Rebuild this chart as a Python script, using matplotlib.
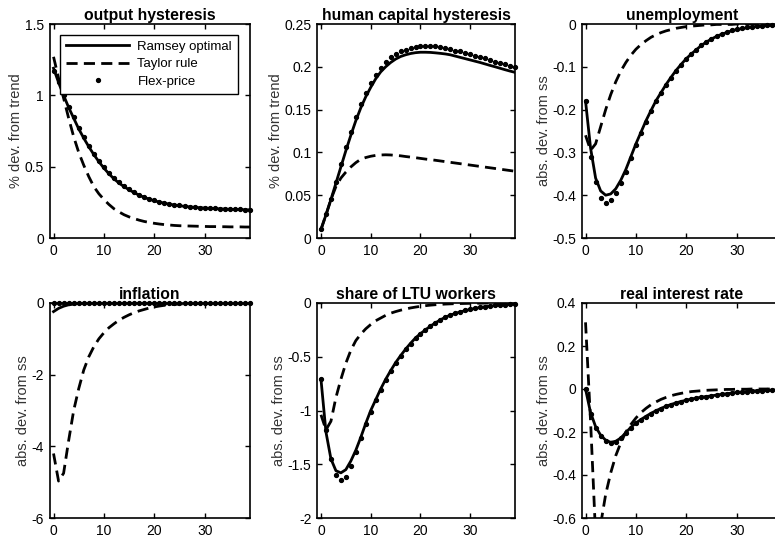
import matplotlib
matplotlib.use('Agg')
import matplotlib.pyplot as plt
import numpy as np
from matplotlib.ticker import FuncFormatter

plt.rcParams['font.family'] = ['Liberation Sans', 'DejaVu Sans']
plt.rcParams['axes.unicode_minus'] = False
plt.rcParams['lines.scale_dashes'] = False

periods = np.arange(40)

output_ramsey = [1.19, 1.09, 1.00, 0.915, 0.84, 0.765, 0.70, 0.64, 0.585, 0.535,
                 0.49, 0.45, 0.415, 0.385, 0.36, 0.338, 0.318, 0.30, 0.285, 0.272,
                 0.261, 0.252, 0.244, 0.237, 0.231, 0.226, 0.222, 0.218, 0.215, 0.212,
                 0.21, 0.208, 0.206, 0.204, 0.203, 0.201, 0.20, 0.199, 0.198, 0.197]
output_taylor = [1.27, 1.12, 0.98, 0.84, 0.71, 0.60, 0.51, 0.43, 0.36, 0.31,
                 0.27, 0.235, 0.205, 0.183, 0.163, 0.148, 0.136, 0.125, 0.116, 0.109,
                 0.103, 0.098, 0.094, 0.091, 0.088, 0.086, 0.085, 0.084, 0.083, 0.082,
                 0.081, 0.080, 0.080, 0.079, 0.079, 0.078, 0.078, 0.078, 0.077, 0.077]
output_flex = [1.17, 1.09, 1.005, 0.92, 0.845, 0.77, 0.705, 0.645, 0.59, 0.54,
               0.495, 0.455, 0.42, 0.39, 0.364, 0.341, 0.321, 0.303, 0.288, 0.275,
               0.264, 0.254, 0.246, 0.239, 0.233, 0.228, 0.223, 0.219, 0.216, 0.213,
               0.211, 0.209, 0.207, 0.205, 0.204, 0.202, 0.201, 0.2, 0.199, 0.198]

hc_ramsey = [0.010, 0.027, 0.045, 0.064, 0.083, 0.102, 0.120, 0.137, 0.152, 0.165,
             0.176, 0.186, 0.194, 0.200, 0.205, 0.209, 0.212, 0.214, 0.2155, 0.2165,
             0.217, 0.217, 0.2168, 0.2163, 0.2157, 0.215, 0.214, 0.2125, 0.211, 0.2095,
             0.208, 0.2065, 0.205, 0.2033, 0.2016, 0.2, 0.1983, 0.1966, 0.195, 0.1935]
hc_taylor = [0.010, 0.027, 0.045, 0.060, 0.070, 0.077, 0.083, 0.088, 0.092, 0.094,
             0.0955, 0.0965, 0.097, 0.0972, 0.097, 0.0965, 0.096, 0.0952, 0.0945, 0.0938,
             0.093, 0.0922, 0.0915, 0.0908, 0.090, 0.0892, 0.0884, 0.0876, 0.0868, 0.086,
             0.0852, 0.0844, 0.0836, 0.0828, 0.082, 0.0812, 0.0804, 0.0796, 0.0788, 0.078]
hc_flex = [0.010, 0.028, 0.046, 0.066, 0.086, 0.106, 0.124, 0.141, 0.156, 0.169,
           0.181, 0.191, 0.199, 0.206, 0.211, 0.215, 0.218, 0.220, 0.222, 0.223,
           0.224, 0.2245, 0.2245, 0.224, 0.223, 0.222, 0.221, 0.219, 0.218, 0.216,
           0.215, 0.213, 0.211, 0.21, 0.208, 0.206, 0.205, 0.203, 0.201, 0.2]

unemp_ramsey = [-0.18, -0.29, -0.36, -0.39, -0.40, -0.397, -0.385, -0.365, -0.34, -0.31,
                -0.28, -0.253, -0.226, -0.202, -0.179, -0.16, -0.141, -0.124, -0.108, -0.094,
                -0.081, -0.07, -0.06, -0.05, -0.042, -0.035, -0.029, -0.024, -0.02, -0.016,
                -0.013, -0.011, -0.009, -0.007, -0.006, -0.005, -0.004, -0.003, -0.0025, -0.002]
unemp_taylor = [-0.26, -0.295, -0.28, -0.24, -0.20, -0.165, -0.135, -0.11, -0.09, -0.073,
                -0.059, -0.048, -0.039, -0.031, -0.025, -0.02, -0.016, -0.013, -0.01, -0.008,
                -0.006, -0.005, -0.004, -0.003, -0.002, -0.002, -0.001, -0.001, -0.001, -0.001,
                0.0, 0.0, 0.0, 0.0, 0.0, 0.0, 0.0, 0.0, 0.0, 0.0]
unemp_flex = [-0.18, -0.31, -0.37, -0.407, -0.418, -0.412, -0.395, -0.372, -0.345, -0.313,
              -0.282, -0.255, -0.228, -0.204, -0.18, -0.161, -0.142, -0.125, -0.109, -0.095,
              -0.081, -0.07, -0.06, -0.05, -0.042, -0.034, -0.028, -0.023, -0.019, -0.015,
              -0.012, -0.01, -0.008, -0.006, -0.005, -0.004, -0.003, -0.002, -0.002, -0.001]

infl_ramsey = [-0.24, -0.15, -0.09, -0.05, -0.03, -0.015, -0.008, -0.004, -0.002, -0.001,
               0.0, 0.0, 0.0, 0.0, 0.0, 0.0, 0.0, 0.0, 0.0, 0.0,
               0.0, 0.0, 0.0, 0.0, 0.0, 0.0, 0.0, 0.0, 0.0, 0.0,
               0.0, 0.0, 0.0, 0.0, 0.0, 0.0, 0.0, 0.0, 0.0, 0.0]
infl_taylor = [-4.2, -4.97, -4.75, -3.84, -3.0, -2.39, -1.87, -1.5, -1.22, -1.0,
               -0.83, -0.69, -0.58, -0.48, -0.4, -0.33, -0.27, -0.22, -0.18, -0.14,
               -0.11, -0.085, -0.065, -0.05, -0.038, -0.028, -0.02, -0.015, -0.011, -0.008,
               -0.006, -0.004, -0.003, -0.002, -0.002, -0.001, -0.001, -0.001, 0.0, 0.0]
infl_flex = [0.0, 0.0, 0.0, 0.0, 0.0, 0.0, 0.0, 0.0, 0.0, 0.0,
             0.0, 0.0, 0.0, 0.0, 0.0, 0.0, 0.0, 0.0, 0.0, 0.0,
             0.0, 0.0, 0.0, 0.0, 0.0, 0.0, 0.0, 0.0, 0.0, 0.0,
             0.0, 0.0, 0.0, 0.0, 0.0, 0.0, 0.0, 0.0, 0.0, 0.0]

ltu_ramsey = [-0.71, -1.2, -1.45, -1.56, -1.58, -1.55, -1.47, -1.37, -1.25, -1.12,
              -1.0, -0.90, -0.80, -0.71, -0.63, -0.555, -0.49, -0.43, -0.375, -0.325,
              -0.285, -0.25, -0.215, -0.185, -0.157, -0.132, -0.113, -0.097, -0.083, -0.071,
              -0.06, -0.05, -0.042, -0.035, -0.029, -0.024, -0.02, -0.016, -0.013, -0.01]
ltu_taylor = [-1.04, -1.18, -1.1, -0.88, -0.71, -0.56, -0.44, -0.35, -0.29, -0.24,
              -0.2, -0.165, -0.14, -0.115, -0.095, -0.08, -0.067, -0.056, -0.046, -0.038,
              -0.031, -0.025, -0.02, -0.016, -0.013, -0.01, -0.008, -0.006, -0.005, -0.004,
              -0.003, -0.002, -0.002, -0.001, -0.001, -0.001, 0.0, 0.0, 0.0, 0.0]
ltu_flex = [-0.71, -1.18, -1.45, -1.60, -1.65, -1.62, -1.52, -1.39, -1.26, -1.13,
            -1.01, -0.905, -0.805, -0.715, -0.635, -0.56, -0.493, -0.432, -0.377, -0.327,
            -0.285, -0.249, -0.214, -0.183, -0.155, -0.13, -0.11, -0.094, -0.08, -0.068,
            -0.057, -0.048, -0.04, -0.033, -0.027, -0.022, -0.018, -0.014, -0.011, -0.008]

rir_ramsey = [0.0, -0.11, -0.175, -0.215, -0.238, -0.248, -0.243, -0.228, -0.203, -0.178,
              -0.158, -0.142, -0.127, -0.113, -0.101, -0.09, -0.08, -0.072, -0.064, -0.058,
              -0.052, -0.047, -0.042, -0.038, -0.035, -0.032, -0.028, -0.025, -0.022, -0.019,
              -0.016, -0.014, -0.012, -0.01, -0.008, -0.007, -0.006, -0.005, -0.004, -0.003]
rir_taylor = [0.31, -0.15, -0.68, -0.63, -0.49, -0.39, -0.31, -0.25, -0.2, -0.165,
              -0.135, -0.11, -0.09, -0.073, -0.06, -0.048, -0.039, -0.031, -0.025, -0.02,
              -0.016, -0.012, -0.01, -0.008, -0.006, -0.005, -0.004, -0.003, -0.002, -0.002,
              -0.001, -0.001, -0.001, 0.0, 0.0, 0.0, 0.0, 0.0, 0.0, 0.0]
rir_flex = [0.0, -0.115, -0.18, -0.22, -0.242, -0.25, -0.245, -0.23, -0.205, -0.18,
            -0.16, -0.143, -0.128, -0.114, -0.102, -0.091, -0.081, -0.073, -0.065, -0.059,
            -0.053, -0.048, -0.043, -0.039, -0.035, -0.032, -0.028, -0.025, -0.022, -0.019,
            -0.016, -0.014, -0.012, -0.01, -0.008, -0.007, -0.006, -0.005, -0.004, -0.003]

series_labels = ['Ramsey optimal', 'Taylor rule', 'Flex-price']
xticks = [0, 10, 20, 30]

panels = [
    dict(title='output hysteresis', ylabel='% dev. from trend', ylim=(0, 1.5),
         yticks=[0, 0.5, 1, 1.5], box=(49.5, 24, 250, 238),
         data=(output_ramsey, output_taylor, output_flex)),
    dict(title='human capital hysteresis', ylabel='% dev. from trend', ylim=(0, 0.25),
         yticks=[0, 0.05, 0.1, 0.15, 0.2, 0.25], box=(317, 24, 515, 238),
         data=(hc_ramsey, hc_taylor, hc_flex)),
    dict(title='unemployment', ylabel='abs. dev. from ss', ylim=(-0.5, 0),
         yticks=[-0.5, -0.4, -0.3, -0.2, -0.1, 0], box=(581.5, 24, 782, 238),
         data=(unemp_ramsey, unemp_taylor, unemp_flex)),
    dict(title='inflation', ylabel='abs. dev. from ss', ylim=(-6, 0),
         yticks=[-6, -4, -2, 0], box=(49.5, 303, 250, 518),
         data=(infl_ramsey, infl_taylor, infl_flex)),
    dict(title='share of LTU workers', ylabel='abs. dev. from ss', ylim=(-2, 0),
         yticks=[-2, -1.5, -1, -0.5, 0], box=(317, 303, 515, 518),
         data=(ltu_ramsey, ltu_taylor, ltu_flex)),
    dict(title='real interest rate', ylabel='abs. dev. from ss', ylim=(-0.6, 0.4),
         yticks=[-0.6, -0.4, -0.2, 0, 0.2, 0.4], box=(581.5, 303, 782, 518),
         data=(rir_ramsey, rir_taylor, rir_flex)),
]

W, H = 775, 542
fig = plt.figure(figsize=(W / 100, H / 100), dpi=100)


def fmt(v, p):
    if abs(v) < 1e-12:
        return '0'
    return f'{v:g}'


for i, p in enumerate(panels):
    l, t, r, b = p['box']
    ax = fig.add_axes([l / W, 1 - b / H, (r - l) / W, (b - t) / H])
    ramsey, taylor, flex = p['data']
    h1, = ax.plot(periods, ramsey, color='k', lw=2.0, label=series_labels[0])
    h2, = ax.plot(periods, taylor, color='k', lw=2.0, ls=(0, (8, 4.5)),
                  label=series_labels[1])
    h3, = ax.plot(periods, flex, ls='none', marker='o', ms=2.8, color='k',
                  mec='k', label=series_labels[2], clip_on=False, zorder=3)
    ax.set_xlim(-0.8, 39)
    ax.set_ylim(*p['ylim'])
    ax.set_xticks(xticks)
    ax.set_yticks(p['yticks'])
    ax.yaxis.set_major_formatter(FuncFormatter(fmt))
    ax.xaxis.set_major_formatter(FuncFormatter(fmt))
    ax.tick_params(direction='in', top=True, right=True, length=3.5, width=1,
                   labelsize=10, pad=4, colors='k')
    for s in ax.spines.values():
        s.set_linewidth(1.2)
    ax.set_title(p['title'], fontweight='bold', fontsize=11.3, pad=3)
    ax.set_ylabel(p['ylabel'], fontsize=10.5, color='#333333', labelpad=1)
    if i == 0:
        leg = ax.legend(handles=[h1, h2, h3], loc='upper right',
                        bbox_to_anchor=(0.94, 0.95), fontsize=9.5, frameon=True,
                        fancybox=False, edgecolor='k', framealpha=1,
                        handlelength=4.8, labelspacing=0.4, borderpad=0.45,
                        handletextpad=0.6, borderaxespad=0, numpoints=1)
        leg.get_frame().set_linewidth(1.0)

fig.savefig('out.png', dpi=100)
